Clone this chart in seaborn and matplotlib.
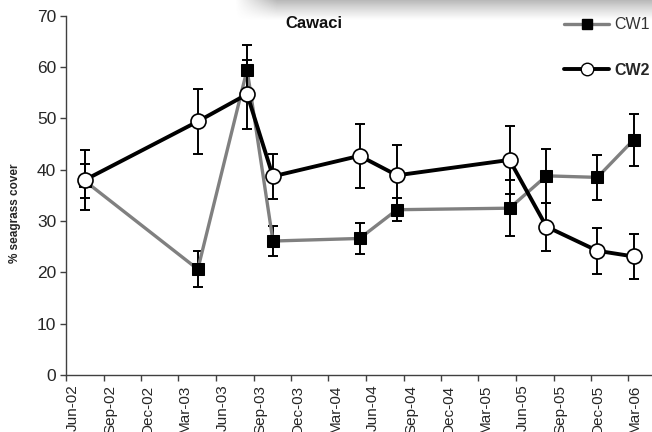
import numpy as np
import pandas as pd
import matplotlib
matplotlib.use("Agg")
import matplotlib.pyplot as plt
import matplotlib.dates as mdates
from matplotlib.lines import Line2D
import seaborn as sns

# ---- data ----
dates = ["2002-07-17", "2003-04-18", "2003-08-16", "2003-10-18", "2004-05-16",
         "2004-08-15", "2005-05-16", "2005-08-14", "2005-12-16", "2006-03-14"]
cw1 = [37.8, 20.6, 59.5, 26.1, 26.6, 32.2, 32.5, 38.8, 38.5, 45.8]
cw1_err = [3.4, 3.5, 4.7, 3.0, 3.0, 2.2, 5.4, 5.2, 4.4, 5.0]
cw2 = [38.0, 49.4, 54.7, 38.7, 42.7, 38.9, 41.9, 28.9, 24.2, 23.1]
cw2_err = [5.9, 6.3, 6.7, 4.4, 6.2, 6.0, 6.6, 4.7, 4.5, 4.4]
title = "Cawaci"
ylabel = "% seagrass cover"
series_names = ["CW1", "CW2"]

df = pd.DataFrame({"date": pd.to_datetime(dates), "CW1": cw1, "CW2": cw2,
                   "CW1_err": cw1_err, "CW2_err": cw2_err})

sns.set_theme(style="ticks")
plt.rcParams["font.family"] = ["Liberation Sans", "DejaVu Sans"]

fig = plt.figure(figsize=(6.52, 4.32), dpi=100)
ax = fig.add_axes([66 / 652, 1 - 375 / 432, (652 - 66) / 652, (375 - 15.7) / 432])

# CW1
ax.errorbar(df["date"], df["CW1"], yerr=df["CW1_err"], fmt="none", ecolor="black",
            elinewidth=1.4, capsize=3.6, capthick=1.4, zorder=2)
sns.lineplot(data=df, x="date", y="CW1", ax=ax, color="#808080", linewidth=2.4,
             marker="s", markersize=9, markerfacecolor="black",
             markeredgecolor="black", zorder=3)
# CW2
ax.errorbar(df["date"], df["CW2"], yerr=df["CW2_err"], fmt="none", ecolor="black",
            elinewidth=1.4, capsize=3.6, capthick=1.4, zorder=4)
sns.lineplot(data=df, x="date", y="CW2", ax=ax, color="black", linewidth=2.8,
             marker="o", markersize=10.8, markerfacecolor="white",
             markeredgecolor="black", markeredgewidth=1.2, zorder=5)

ax.set_xlim(pd.Timestamp("2002-06-01"), pd.Timestamp("2006-04-28"))
ax.set_ylim(0, 70)
ax.set_yticks(range(0, 71, 10))
ticks = pd.date_range("2002-06-01", "2006-03-01", freq="3MS")
ax.set_xticks(ticks)
ax.xaxis.set_major_formatter(mdates.DateFormatter("%b-%y"))
ax.tick_params(axis="x", rotation=90, labelsize=11, length=4, width=1, color="#404040", pad=3)
ax.tick_params(axis="y", labelsize=12.5, length=4, width=1, color="#404040", pad=3)
for lab in ax.get_xticklabels():
    lab.set_ha("left")
    lab.set_va("top")
ax.set_xlabel("")
ax.set_ylabel("")
sns.despine(ax=ax)
for s in ["left", "bottom"]:
    ax.spines[s].set_color("#404040")
    ax.spines[s].set_linewidth(1)

fig.text(15 / 652, 1 - 213 / 432, ylabel, rotation=90, ha="center", va="center",
         fontsize=8.5, fontweight="bold")

# gray banner at top
bax = fig.add_axes([235 / 652, 1 - 26 / 432, 417 / 652, 26 / 432])
h, w = 26, 417
yy = np.linspace(0, 1, h)[:, None]
xx = np.linspace(0, 1, w)[None, :]
vert = np.clip(1 - yy / 0.8, 0, 1) ** 1.2
horiz = np.clip(xx / 0.1, 0, 1)
alpha = 0.42 * vert * horiz
img = np.zeros((h, w, 4))
img[..., :3] = 0.35
img[..., 3] = alpha
bax.imshow(img, aspect="auto", interpolation="bilinear")
bax.axis("off")

fig.text(314 / 652, 1 - 23 / 432, title, ha="center", va="center",
         fontsize=12, fontweight="bold", color="#111111", zorder=10)

handles = [
    Line2D([0], [0], color="#808080", lw=2.4, marker="s", markersize=7.5,
           markerfacecolor="black", markeredgecolor="black"),
    Line2D([0], [0], color="black", lw=2.8, marker="o", markersize=9,
           markerfacecolor="white", markeredgecolor="black"),
]
leg = fig.legend(handles, series_names, loc="upper left",
                 bbox_to_anchor=(558 / 652, 1 - 11 / 432), frameon=False,
                 fontsize=11.5, handlelength=2.8, handletextpad=0.3,
                 labelspacing=1.9, borderaxespad=0)
texts = leg.get_texts()
texts[0].set_color("#333333")
texts[1].set_fontweight("bold")

fig.savefig("out.png", dpi=100)
